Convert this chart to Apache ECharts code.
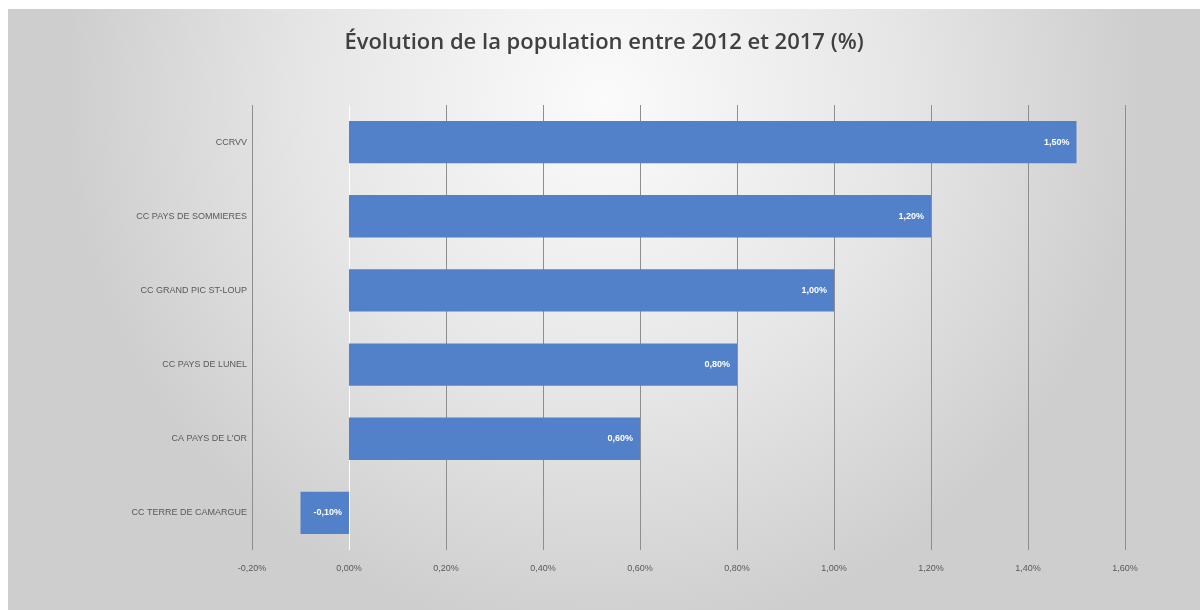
<!DOCTYPE html>
<html>
<head>
<meta charset="utf-8">
<script src="https://cdn.jsdelivr.net/npm/echarts@6/dist/echarts.min.js"></script>
<style>
    html, body { margin: 0; padding: 0; background: #fff; }
    #chart { position: absolute; left: 8px; top: 9px; width: 1192px; height: 601px; }
</style>
</head>
<body>
<div id="chart"></div>
<script>
var categories = ['CCRVV', 'CC PAYS DE SOMMIERES', 'CC GRAND PIC ST-LOUP', 'CC PAYS DE LUNEL', "CA PAYS DE L'OR", 'CC TERRE DE CAMARGUE'];
var values = [1.5, 1.2, 1.0, 0.8, 0.6, -0.1];
var xMin = -0.2, xMax = 1.6, xStep = 0.2;

function pct(v) {
    return v.toFixed(2).replace('.', ',') + '%';
}

var myChart = echarts.init(document.getElementById('chart'));

// gridline colours: the zero line is white like in the original
var gridColors = [];
for (var i = 0; i <= Math.round((xMax - xMin) / xStep); i++) {
    gridColors.push(i === 1 ? '#ffffff' : '#8e8e8e');
}

var option = {
    backgroundColor: {
        type: 'radial', x: 0.5, y: 0.15, r: 0.9,
        colorStops: [
            { offset: 0, color: '#fbfbfb' },
            { offset: 0.55, color: '#e6e6e6' },
            { offset: 1, color: '#cecece' }
        ]
    },
    title: {
        text: 'Évolution de la population entre 2012 et 2017 (%)',
        left: 'center',
        top: 18,
        textStyle: {
            fontFamily: 'Open Sans',
            fontSize: 22,
            fontWeight: 600,
            color: '#404040'
        }
    },
    grid: {
        left: 244,
        right: 75,
        top: 96,
        bottom: 60,
        containLabel: false
    },
    xAxis: {
        type: 'value',
        min: xMin,
        max: xMax,
        interval: xStep,
        axisLine: { show: false },
        axisTick: { show: false },
        splitLine: {
            show: true,
            lineStyle: { color: gridColors, width: 1 }
        },
        axisLabel: {
            color: '#595959',
            fontSize: 9,
            fontFamily: 'Liberation Sans',
            margin: 14,
            formatter: function (v) { return pct(v); }
        }
    },
    yAxis: {
        type: 'category',
        data: categories,
        inverse: true,
        axisLine: { show: false, onZero: false },
        axisTick: { show: false },
        axisLabel: {
            color: '#595959',
            fontSize: 9,
            fontFamily: 'Liberation Sans',
            margin: 5
        }
    },
    series: [{
        type: 'bar',
        data: values,
        barCategoryGap: '43%',
        itemStyle: { color: '#5280c9' },
        label: {
            show: true,
            position: 'insideRight',
            distance: 7,
            color: '#ffffff',
            fontSize: 9,
            fontWeight: 'bold',
            fontFamily: 'Liberation Sans',
            formatter: function (p) { return pct(p.value); }
        }
    }]
};

myChart.setOption(option);
</script>
</body>
</html>
